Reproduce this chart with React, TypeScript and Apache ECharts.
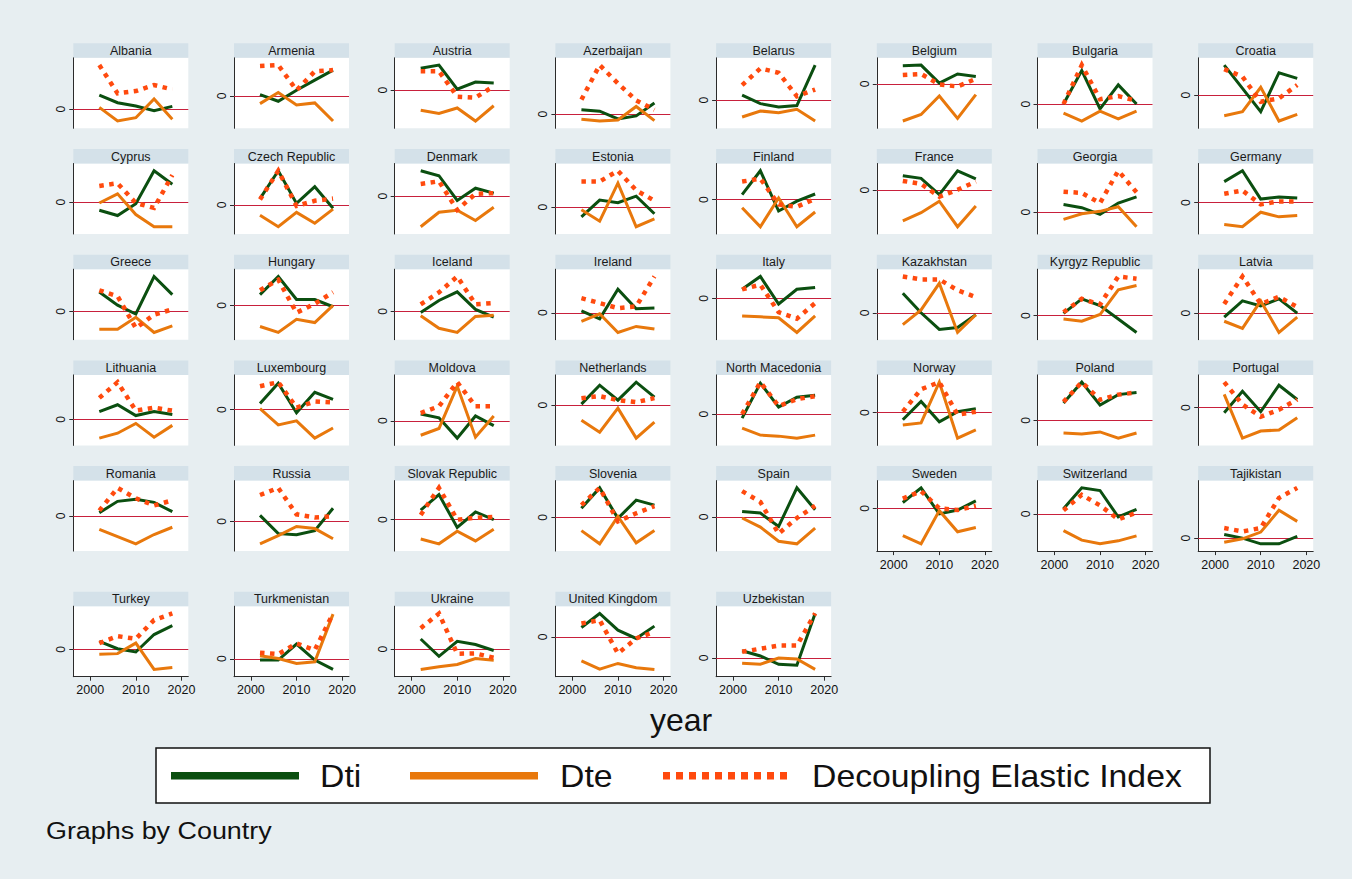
import React, { useEffect, useRef } from "react";
import * as echarts from "echarts";

const countries = [
  "Albania", "Armenia", "Austria", "Azerbaijan", "Belarus", "Belgium", "Bulgaria", "Croatia",
  "Cyprus", "Czech Republic", "Denmark", "Estonia", "Finland", "France", "Georgia", "Germany",
  "Greece", "Hungary", "Iceland", "Ireland", "Italy", "Kazakhstan", "Kyrgyz Republic", "Latvia",
  "Lithuania", "Luxembourg", "Moldova", "Netherlands", "North Macedonia", "Norway", "Poland", "Portugal",
  "Romania", "Russia", "Slovak Republic", "Slovenia", "Spain", "Sweden", "Switzerland", "Tajikistan",
  "Turkey", "Turkmenistan", "Ukraine", "United Kingdom", "Uzbekistan",
];

const years = [2002, 2006, 2010, 2014, 2018];
const xTicks = [2000, 2010, 2020];
const yTicks = [0];

// Dti
const dti: number[][] = [
  [42, 19, 9, -5, 8], [4, -16, 17, 47, 77], [67, 77, 3, 25, 22], [13, 9, -14, -5, 33],
  [15, -10, -20, -16, 105], [55, 57, 2, 30, 22], [0, 105, -15, 60, 0], [90, 20, -50, 67, 50],
  [-25, -41, -5, 95, 54], [20, 107, 5, 57, -10], [77, 62, -13, 24, 9], [-30, 22, 14, 34, -20],
  [15, 88, -35, -5, 17], [44, 36, -14, 59, 34], [25, 15, -7, 30, 50], [64, 97, 11, 17, 14],
  [59, 19, -8, 106, 51], [33, 88, 18, 18, -4], [-4, 34, 61, 6, -18], [6, -18, 71, 12, 14],
  [10, 24, -6, 10, 12], [20, 0, -17, -15, -2], [2, 15, 9, -3, -15], [-4, 12, 7, 14, 0],
  [8, 15, 4, 8, 5], [6, 26, -3, 17, 10], [7, 3, -18, 5, -5], [1, 20, 5, 23, 8],
  [-4, 31, 7, 17, 19], [-7, 11, -9, 1, 4], [17, 37, 15, 25, 27], [-5, 16, -4, 22, 8],
  [3, 14, 16, 13, 4], [6, -12, -13, -9, 13], [10, 26, -8, 8, 0], [9, 29, -1, 17, 12],
  [17, 12, -29, 89, 22], [18, 63, -17, -5, 23], [16, 79, 71, -9, 14], [11, 0, -17, -17, 5],
  [24, 2, -8, 45, 72], [-4, -4, 44, -4, -32], [31, -22, 24, 14, -4], [28, 70, 20, -5, 32],
  [7, 2, -6, -7, 43],
];

// Dte
const dte: number[][] = [
  [5, -36, -26, 30, -31], [-23, 10, -27, -21, -75], [-62, -72, -55, -95, -48], [-15, -20, -17, 23, -19],
  [-50, -32, -37, -27, -62], [-113, -93, -37, -105, -33], [-28, -53, -22, -46, -22], [-62, -50, 23, -78, -58],
  [-3, 25, -38, -75, -75], [-32, -68, -23, -57, -13], [-93, -49, -43, -74, -34], [-8, -43, 74, -60, -36],
  [-25, -83, 5, -83, -38], [-94, -69, -34, -112, -49], [-23, -5, 3, 18, -47], [-66, -73, -29, -43, -39],
  [-54, -54, -18, -64, -44], [-64, -82, -42, -52, 0], [-14, -53, -66, -16, -12], [-26, -3, -59, -41, -49],
  [-19, -20, -21, -37, -19], [-12, 3, 30, -20, -2], [-3, -5, 1, 23, 27], [-8, -15, 12, -19, -4],
  [-19, -14, -4, -18, -6], [1, -15, -11, -28, -18], [-15, -8, 36, -17, 5], [-15, -27, -3, -33, -17],
  [-14, -21, -22, -24, -21], [-12, -10, 30, -25, -17], [-12, -13, -11, -17, -12], [13, -30, -23, -22, -10],
  [-13, -20, -27, -18, -11], [-22, -14, -5, -7, -17], [-20, -25, -12, -22, -10], [-13, -26, 1, -25, -13],
  [-3, -31, -74, -82, -34], [-84, -109, -7, -72, -59], [-50, -79, -90, -81, -66], [-12, -2, 18, 83, 50],
  [-15, -13, 19, -61, -55], [9, 1, -14, -9, 134], [-62, -54, -47, -29, -34], [-72, -97, -80, -93, -98],
  [-5, -6, 0, -1, -11],
];

// Decoupling Elastic Index
const dei: number[][] = [
  [132, 47, 54, 72, 59], [89, 92, 17, 73, 77], [58, 58, -20, -23, 12], [43, 145, 91, 41, 13],
  [45, 95, 82, 12, 32], [27, 30, -2, -8, 15], [0, 122, 15, 25, 10], [78, 55, -20, -10, 30],
  [49, 57, -3, -18, 82], [17, 107, -3, 13, 20], [37, 45, -42, 7, 9], [79, 79, 112, 52, 20],
  [55, 64, -15, -22, 2], [28, 19, -20, 1, 26], [67, 63, 30, 135, 65], [27, 37, -5, 4, 4],
  [64, 46, -51, -10, 6], [46, 78, -22, 5, 40], [22, 59, 109, 22, 26], [44, 29, 14, 19, 109],
  [10, 15, -15, -22, -5], [37, 34, 34, 23, 16], [3, 15, 10, 35, 33], [9, 36, 9, 16, 6],
  [22, 38, 9, 12, 9], [23, 27, 2, 8, 7], [8, 15, 40, 15, 15], [7, 9, 5, 3, 7],
  [0, 32, 8, 15, 18], [1, 23, 30, -2, 1], [18, 37, 20, 25, 27], [25, 3, -9, -2, 8],
  [5, 27, 17, 10, 15], [26, 33, 7, 4, 5], [5, 33, 0, 2, 3], [12, 29, -4, 4, 11],
  [79, 46, -51, -3, 34], [30, 53, 0, -5, 8], [11, 58, 26, -16, 4], [30, 20, 30, 120, 150],
  [19, 40, 32, 89, 109], [18, 14, 46, 26, 136], [64, 109, -14, -13, -26], [40, 50, -50, -5, 15],
  [6, 9, 12, 12, 43],
];

const legendNames = ["Dti", "Dte", "Decoupling Elastic Index"];

const FONT = "'Liberation Sans', Arial, Helvetica, sans-serif";
const BG = "#e7eef1";
const STRIP = "#d4e1e9";
const AXIS = "#2b2b2b";
const ZERO = "#c8203c";
const GREEN = "#0b4f10";
const ORANGE = "#e8780c";
const RED = "#ff4a0e";

const COLS = 8;
const colLeft = (c: number) => 73.3 + 160.7 * c;
const rowTop = (r: number) => (r < 5 ? 43.3 + 105.7 * r : 591.7);
const PANEL_W = 115;
const STRIP_H = 14.5;
const PLOT_H = 70.5;

function buildOption() {
  const grid: any[] = [];
  const xAxis: any[] = [];
  const yAxis: any[] = [];
  const series: any[] = [];
  const graphic: any[] = [];
  const n = countries.length;

  countries.forEach((name, i) => {
    const r = Math.floor(i / COLS);
    const c = i % COLS;
    const L = colLeft(c);
    const T = rowTop(r);
    const showX = i + COLS >= n;

    grid.push({
      left: L, top: T + STRIP_H, width: PANEL_W, height: PLOT_H,
      show: true, backgroundColor: "#ffffff", borderWidth: 0, containLabel: false,
    });

    xAxis.push({
      gridIndex: i, type: "value", min: 1996.3, max: 2021.5,
      axisLine: { show: showX, onZero: false, lineStyle: { color: AXIS, width: 1 } },
      axisTick: { show: showX, length: 4, customValues: xTicks, lineStyle: { color: AXIS } },
      axisLabel: {
        show: showX, customValues: xTicks, margin: 7, fontSize: 12.5, color: "#111",
        fontFamily: FONT, formatter: (val: number) => String(Math.round(val)),
      },
      splitLine: { show: false },
    });

    yAxis.push({
      gridIndex: i, type: "value",
      min: (v: any) => {
        const lo = Math.min(v.min, 0), hi = Math.max(v.max, 0);
        return lo - (hi - lo) * 0.13;
      },
      max: (v: any) => {
        const lo = Math.min(v.min, 0), hi = Math.max(v.max, 0);
        return hi + (hi - lo) * 0.13;
      },
      axisLine: { show: true, onZero: false, lineStyle: { color: AXIS, width: 1 } },
      axisTick: { show: true, length: 4, customValues: yTicks, lineStyle: { color: AXIS } },
      axisLabel: {
        show: true, customValues: yTicks, rotate: 90, margin: 6, fontSize: 12, color: "#111",
        fontFamily: FONT, formatter: (val: number) => String(val),
      },
      splitLine: { show: false },
    });

    const toPts = (arr: number[]) => years.map((y, k) => [y, arr[k]]);

    series.push({
      name: legendNames[0], type: "line", xAxisIndex: i, yAxisIndex: i,
      data: toPts(dti[i]), symbol: "none", smooth: false, z: 3,
      lineStyle: { color: GREEN, width: 3, cap: "butt", join: "miter" },
      markLine: {
        silent: true, symbol: "none", z: 1, animation: false,
        label: { show: false },
        lineStyle: { color: ZERO, width: 1.2, type: "solid" },
        data: [{ yAxis: 0 }],
      },
    });
    series.push({
      name: legendNames[1], type: "line", xAxisIndex: i, yAxisIndex: i,
      data: toPts(dte[i]), symbol: "none", smooth: false, z: 3,
      lineStyle: { color: ORANGE, width: 3, cap: "butt", join: "miter" },
    });
    series.push({
      name: legendNames[2], type: "line", xAxisIndex: i, yAxisIndex: i,
      data: toPts(dei[i]), symbol: "none", smooth: false, z: 4,
      lineStyle: { color: RED, width: 4.5, type: [4.5, 5.5], cap: "butt", join: "miter" },
    });

    graphic.push({
      type: "rect", silent: true,
      shape: { x: L, y: T, width: PANEL_W, height: STRIP_H },
      style: { fill: STRIP },
    });
    graphic.push({
      type: "text", silent: true, x: L + PANEL_W / 2, y: T + STRIP_H / 2 + 0.5,
      style: {
        text: name, fill: "#1a1a1a", font: `12.5px ${FONT}`,
        textAlign: "center", textVerticalAlign: "middle",
      },
    });
  });

  // x-axis title
  graphic.push({
    type: "text", silent: true, x: 681, y: 720,
    style: { text: "year", fill: "#111", font: `32px ${FONT}`, textAlign: "center", textVerticalAlign: "middle" },
  });

  // legend box
  const LY = 775.7;
  graphic.push({
    type: "rect", silent: true,
    shape: { x: 156, y: 748, width: 1054, height: 55 },
    style: { fill: "#ffffff", stroke: "#111", lineWidth: 1.5 },
  });
  const legendItems = [
    { x0: 171, x1: 299, tx: 320, color: GREEN, dash: null as any },
    { x0: 410, x1: 538, tx: 560, color: ORANGE, dash: null as any },
    { x0: 663, x1: 787, tx: 812, color: RED, dash: [7, 6] },
  ];
  legendItems.forEach((it, k) => {
    graphic.push({
      type: "line", silent: true,
      shape: { x1: it.x0, y1: LY, x2: it.x1, y2: LY },
      style: { stroke: it.color, lineWidth: 7.5, lineDash: it.dash || undefined, lineCap: "butt" },
    });
    graphic.push({
      type: "text", silent: true, x: it.tx, y: LY + 1, scaleX: 1.09,
      style: { text: legendNames[k], fill: "#111", font: `31px ${FONT}`, textAlign: "left", textVerticalAlign: "middle" },
    });
  });

  graphic.push({
    type: "text", silent: true, x: 46, y: 831, scaleX: 1.17,
    style: { text: "Graphs by Country", fill: "#111", font: `23px ${FONT}`, textAlign: "left", textVerticalAlign: "middle" },
  });

  return {
    animation: false,
    backgroundColor: BG,
    grid, xAxis, yAxis, series, graphic,
  };
}

export default function App() {
  const ref = useRef<HTMLDivElement>(null);
  useEffect(() => {
    const chart = echarts.init(ref.current!, null, { renderer: "svg" });
    chart.setOption(buildOption());
    return () => chart.dispose();
  }, []);
  return (
    <div
      ref={ref}
      style={{ position: "fixed", left: 0, top: 0, width: 1352, height: 879 }}
    />
  );
}
